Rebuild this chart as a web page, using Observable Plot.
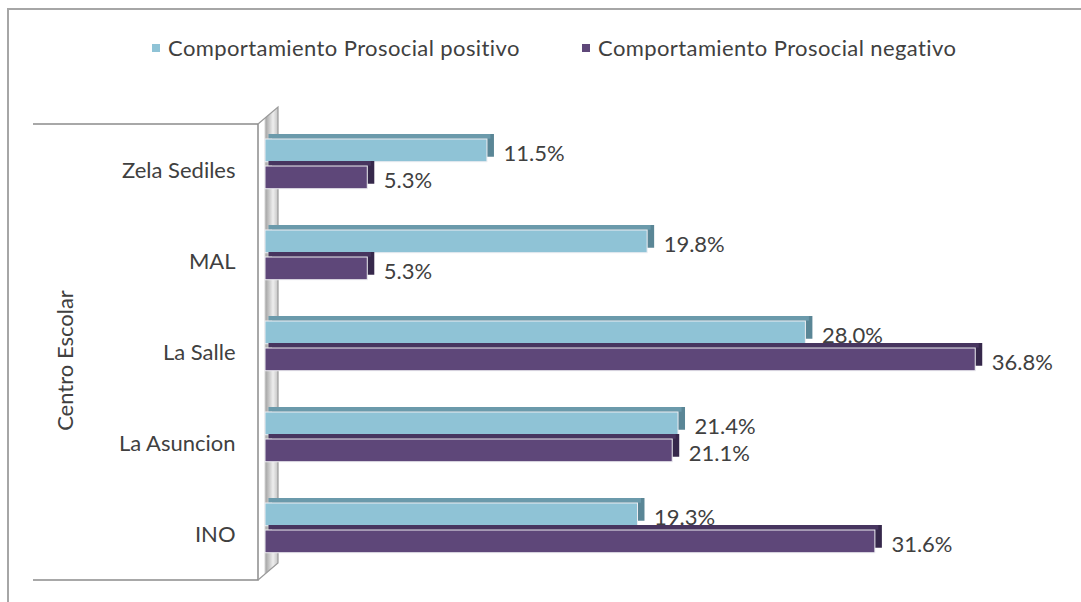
<!DOCTYPE html>
<html>
<head>
<meta charset="utf-8">
<script src="https://cdn.jsdelivr.net/npm/d3@7"></script>
<script src="https://cdn.jsdelivr.net/npm/@observablehq/plot@0.6"></script>
<style>
  body { margin: 0; background: #fff; font-family: Lato, "Open Sans", sans-serif; }
  #wrap { position: relative; width: 1081px; height: 602px; overflow: hidden; background: #fff; }
  #frame { position: absolute; left: 7px; top: 8px; width: 1100px; height: 620px;
           border-top: 2px solid #a6a6a6; border-left: 2px solid #a6a6a6; pointer-events: none; }
  #legend { position: relative; height: 95px; box-sizing: border-box; font-size: 22px; color: #404040; letter-spacing: 0.4px; }
  .item { position: absolute; top: 34px; display: flex; align-items: center; white-space: nowrap; }
  .sw { width: 8px; height: 8px; margin-right: 8px; display: inline-block; }
  #chart { position: relative; height: 507px; }
</style>
</head>
<body>
<div id="wrap">
  <div id="frame"></div>
  <div id="legend"></div>
  <div id="chart"></div>
</div>
<script>
// ---- data ----
const schools = ["Zela Sediles", "MAL", "La Salle", "La Asuncion", "INO"];
const positivo = [11.5, 19.8, 28.0, 21.4, 19.3];
const negativo = [5.3, 5.3, 36.8, 21.1, 31.6];
const seriesNames = ["Comportamiento Prosocial positivo", "Comportamiento Prosocial negativo"];
const axisLabel = "Centro Escolar";

// ---- style ----
const colors = {
  pos: { front: "#8fc3d6", top: "#6b9aab", side: "#5a8696" },
  neg: { front: "#5e4779", top: "#47355f", side: "#36284b" }
};

const posData = schools.map((s, i) => ({ school: s, value: positivo[i], serie: seriesNames[0] }));
const negData = schools.map((s, i) => ({ school: s, value: negativo[i], serie: seriesNames[1] }));

// legend
const legend = d3.select("#legend");
[[seriesNames[0], colors.pos.front, 152], [seriesNames[1], colors.neg.front, 582]].forEach(([name, c, left]) => {
  const it = legend.append("div").attr("class", "item").style("left", left + "px");
  it.append("span").attr("class", "sw").style("background", c);
  it.append("span").text(name);
});

const bh = 23;   // bar thickness
const gap = 4;
const depthX = 7, depthY = 5;

function bar3d(data, col, isPos, bw) {
  const insTop = isPos ? 0 : bh + gap;
  const insBot = isPos ? bw - bh : bw - 2 * bh - gap;
  return [
    Plot.barX(data, { x: "value", y: "school", insetTop: insTop, insetBottom: insBot,
      fill: col.side, dx: depthX, dy: -depthY }),
    Plot.barX(data, { x: "value", y: "school", insetTop: insTop, insetBottom: bw - insTop - depthY,
      fill: col.top, dx: depthX / 2, dy: -depthY }),
    Plot.barX(data, { x: "value", y: "school", insetTop: insTop, insetBottom: insBot,
      fill: col.front, stroke: "#eeeef2", strokeWidth: 1 })
  ];
}

const W = 1081, H = 507;
const mTop = 24, mBottom = 29, mLeft = 265, mRight = 44;
const pIn = 0.44, pOut = 0.2;
const step = (H - mTop - mBottom) / (schools.length - pIn + 2 * pOut);
const bw = step * (1 - pIn);
const fs = 22;

const chart = Plot.plot({
  width: W,
  height: H,
  marginTop: mTop,
  marginBottom: mBottom,
  marginLeft: mLeft,
  marginRight: mRight,
  style: { fontFamily: "Lato, 'Open Sans', sans-serif", color: "#404040", background: "transparent" },
  x: { domain: [0, 40], axis: null },
  y: { domain: schools, paddingInner: pIn, paddingOuter: pOut, axis: null },
  marks: [
    ...bar3d(posData, colors.pos, true, bw),
    ...bar3d(negData, colors.neg, false, bw),
    Plot.text(posData, { x: "value", y: "school", text: d => d.value.toFixed(1) + "%",
      textAnchor: "start", dx: 16, dy: -11, fontSize: fs, fill: "#404040" }),
    Plot.text(negData, { x: "value", y: "school", text: d => d.value.toFixed(1) + "%",
      textAnchor: "start", dx: 16, dy: 16, fontSize: fs, fill: "#404040" }),
    Plot.axisY({ tickSize: 0, tickPadding: 30, fontSize: fs, dy: 6, label: null }),
    Plot.text([axisLabel], { frameAnchor: "left", textAnchor: "middle", rotate: -90, dx: -200, dy: 14,
      fontSize: fs, fill: "#404040" })
  ]
});

document.getElementById("chart").appendChild(chart);

// ---- decorative 3D wall, positioned from the scales ----
const xs = chart.scale("x"), ys = chart.scale("y");
const x0 = xs.apply(0);
const wf = x0 - 7, wb = x0 + 13;
const yt = ys.range[0] + 5, yb = ys.range[1] + 7;
const sk = 17;
const svg = d3.select(chart);
const defs = svg.insert("defs", ":first-child");
const g = defs.append("linearGradient").attr("id", "wallGrad").attr("x1", 0).attr("x2", 1).attr("y1", 0).attr("y2", 0);
g.append("stop").attr("offset", 0).attr("stop-color", "#ffffff");
g.append("stop").attr("offset", 0.3).attr("stop-color", "#ffffff");
g.append("stop").attr("offset", 0.4).attr("stop-color", "#a9a9a9");
g.append("stop").attr("offset", 0.75).attr("stop-color", "#eeeeee");
g.append("stop").attr("offset", 1).attr("stop-color", "#c4c4c4");
const wall = svg.insert("g", "defs + *");
wall.append("path")
  .attr("d", `M${wf},${yt}L${wb},${yt - sk}L${wb},${yb - sk}L${wf},${yb}Z`)
  .attr("fill", "url(#wallGrad)");
wall.append("path")
  .attr("d", `M33,${yt}H${wf}V${yb}H33`)
  .attr("fill", "none").attr("stroke", "#8c8c8c").attr("stroke-width", 1.5);
wall.append("path")
  .attr("d", `M${wf},${yt}L${wb},${yt - sk}V${yb - sk}L${wf},${yb}`)
  .attr("fill", "none").attr("stroke", "#9a9a9a").attr("stroke-width", 1.2);
</script>
</body>
</html>
